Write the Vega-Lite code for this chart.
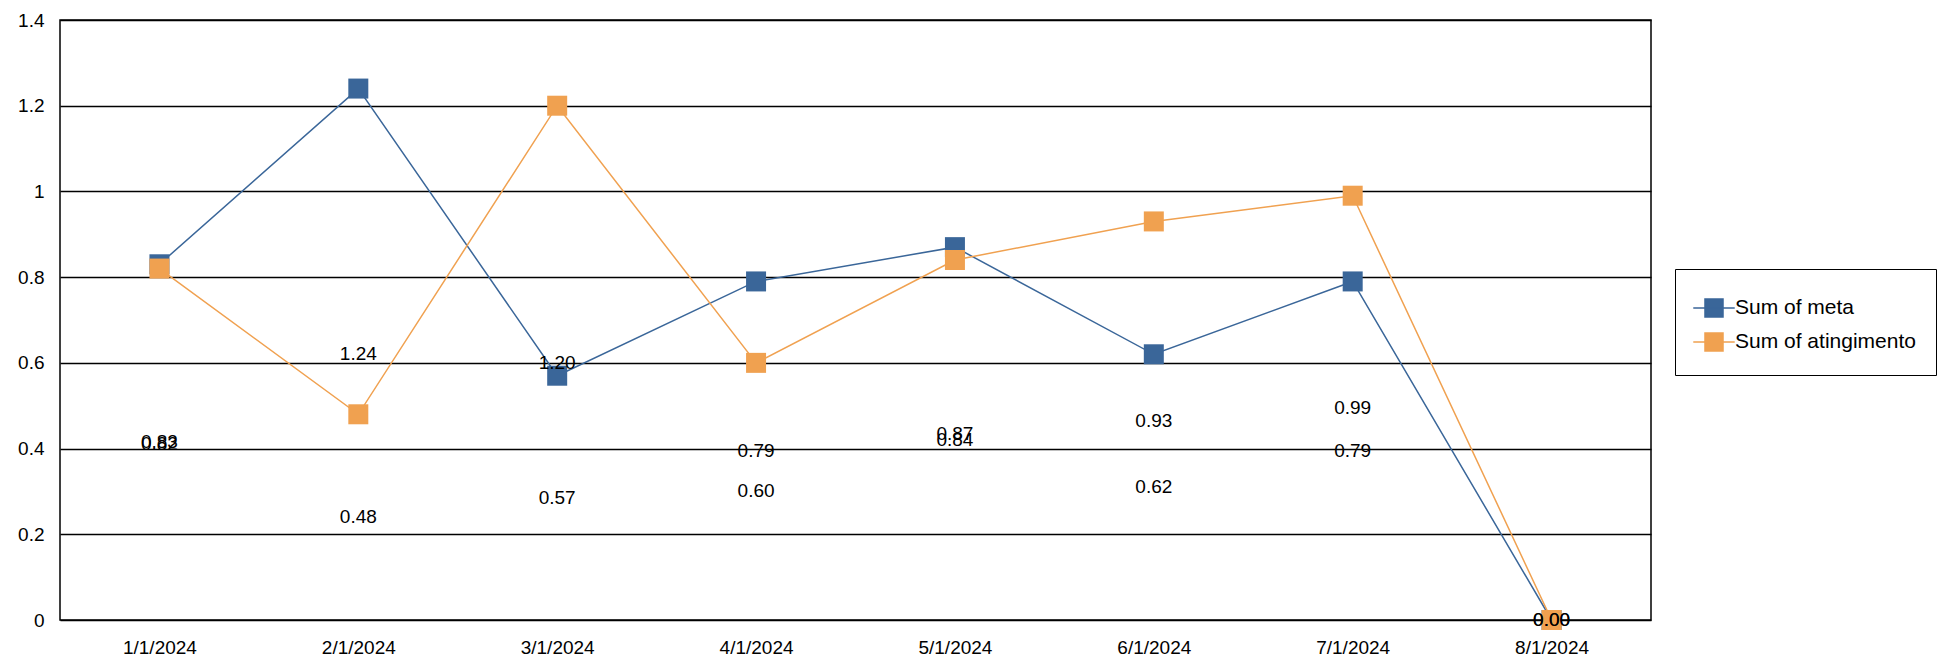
{
  "$schema": "https://vega.github.io/schema/vega-lite/v6.json",
  "width": 1591,
  "height": 600,
  "autosize": "none",
  "padding": {"left": 60, "top": 20, "right": 301, "bottom": 43},
  "background": "white",
  "config": {
    "view": {"stroke": "black", "strokeWidth": 1.5},
    "font": "Liberation Sans",
    "axis": {"labelFont": "Liberation Sans", "labelFontSize": 19, "labelColor": "black", "domain": false, "ticks": false, "title": null}
  },
  "data": {"values": [
    {"date": "1/1/2024", "series": "Sum of meta", "value": 0.83},
    {"date": "2/1/2024", "series": "Sum of meta", "value": 1.24},
    {"date": "3/1/2024", "series": "Sum of meta", "value": 0.57},
    {"date": "4/1/2024", "series": "Sum of meta", "value": 0.79},
    {"date": "5/1/2024", "series": "Sum of meta", "value": 0.87},
    {"date": "6/1/2024", "series": "Sum of meta", "value": 0.62},
    {"date": "7/1/2024", "series": "Sum of meta", "value": 0.79},
    {"date": "8/1/2024", "series": "Sum of meta", "value": 0.0},
    {"date": "1/1/2024", "series": "Sum of atingimento", "value": 0.82},
    {"date": "2/1/2024", "series": "Sum of atingimento", "value": 0.48},
    {"date": "3/1/2024", "series": "Sum of atingimento", "value": 1.2},
    {"date": "4/1/2024", "series": "Sum of atingimento", "value": 0.6},
    {"date": "5/1/2024", "series": "Sum of atingimento", "value": 0.84},
    {"date": "6/1/2024", "series": "Sum of atingimento", "value": 0.93},
    {"date": "7/1/2024", "series": "Sum of atingimento", "value": 0.99},
    {"date": "8/1/2024", "series": "Sum of atingimento", "value": 0.0}
  ]},
  "encoding": {
    "x": {"field": "date", "type": "ordinal", "sort": null,
      "scale": {"type": "point", "padding": 0.5},
      "axis": {"labelAngle": 0, "labelPadding": 18, "grid": false}}
  },
  "layer": [
    {
      "mark": {"type": "line", "strokeWidth": 1.5, "point": {"shape": "square", "size": 400, "filled": true, "opacity": 1}},
      "encoding": {
        "y": {"field": "value", "type": "quantitative",
          "scale": {"domain": [0, 1.4]},
          "axis": {"values": [0, 0.2, 0.4, 0.6, 0.8, 1, 1.2, 1.4], "format": ".1~f", "gridColor": "black", "gridOpacity": 1, "gridWidth": 1.5, "labelPadding": 16}},
        "color": {"field": "series", "type": "nominal",
          "sort": ["Sum of meta", "Sum of atingimento"],
          "scale": {"domain": ["Sum of meta", "Sum of atingimento"], "range": ["#3A6699", "#F0A150"]},
          "legend": {"title": null, "orient": "none", "legendX": 1615, "legendY": 249,
            "strokeColor": "black", "padding": 20, "labelFontSize": 21, "labelColor": "black",
            "symbolType": "M-1.15,0H1.15M-0.5,-0.5H0.5V0.5H-0.5Z", "symbolSize": 1300, "symbolStrokeWidth": 1.5, "rowPadding": 2,
            "labelLimit": 400, "labelOffset": 2}}
      }
    },
    {
      "mark": {"type": "text", "fontSize": 19, "color": "black"},
      "encoding": {
        "y": {"field": "value", "type": "quantitative", "scale": {"domain": [0, 2.8]}, "axis": null},
        "text": {"field": "value", "type": "quantitative", "format": ".2f"},
        "detail": {"field": "series"}
      }
    }
  ],
  "resolve": {"scale": {"y": "independent"}}
}
